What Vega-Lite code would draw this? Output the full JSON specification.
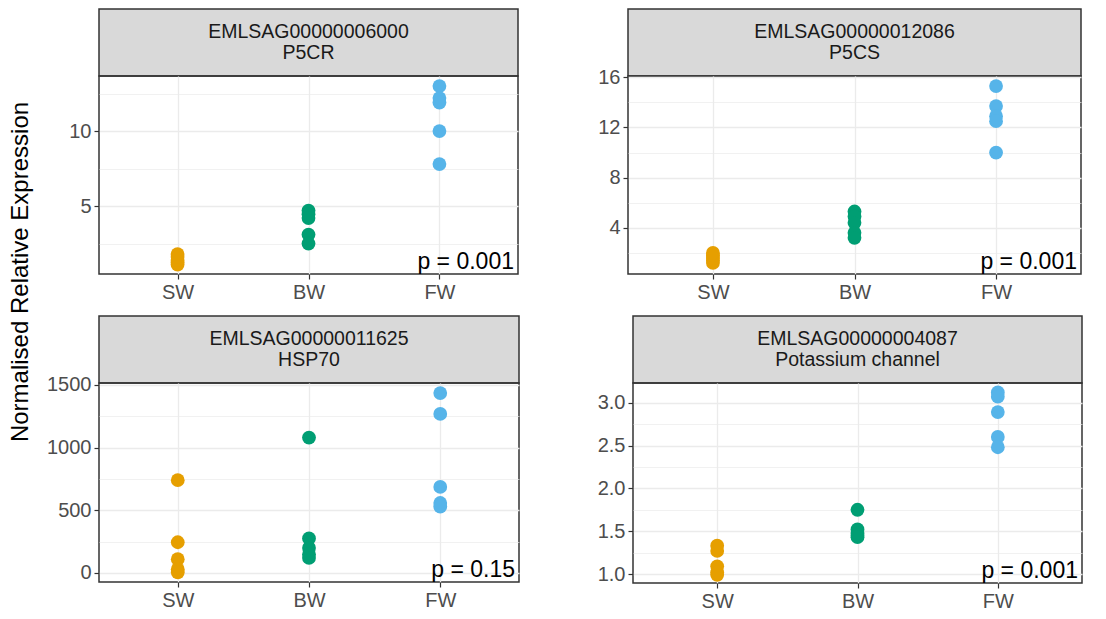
{
  "$schema": "https://vega.github.io/schema/vega-lite/v6.json",
  "padding": {"left": 8, "top": 8, "right": 5, "bottom": 5},
  "background": "white",
  "title": {"text": "Normalised Relative Expression", "orient": "left", "anchor": "middle", "fontSize": 24, "fontWeight": "normal", "color": "#000000", "font": "Liberation Sans", "offset": 13, "dx": 38},
  "datasets": {
    "expr": [
      {"gene": "P5CR", "salinity": "SW", "value": 1.1},
      {"gene": "P5CR", "salinity": "SW", "value": 1.25},
      {"gene": "P5CR", "salinity": "SW", "value": 1.4},
      {"gene": "P5CR", "salinity": "SW", "value": 1.6},
      {"gene": "P5CR", "salinity": "SW", "value": 1.8},
      {"gene": "P5CR", "salinity": "BW", "value": 4.7},
      {"gene": "P5CR", "salinity": "BW", "value": 4.45},
      {"gene": "P5CR", "salinity": "BW", "value": 4.2},
      {"gene": "P5CR", "salinity": "BW", "value": 3.1},
      {"gene": "P5CR", "salinity": "BW", "value": 2.5},
      {"gene": "P5CR", "salinity": "FW", "value": 13.0},
      {"gene": "P5CR", "salinity": "FW", "value": 12.2},
      {"gene": "P5CR", "salinity": "FW", "value": 11.9},
      {"gene": "P5CR", "salinity": "FW", "value": 10.0},
      {"gene": "P5CR", "salinity": "FW", "value": 7.8},
      {"gene": "P5CS", "salinity": "SW", "value": 1.2},
      {"gene": "P5CS", "salinity": "SW", "value": 1.4},
      {"gene": "P5CS", "salinity": "SW", "value": 1.6},
      {"gene": "P5CS", "salinity": "SW", "value": 1.8},
      {"gene": "P5CS", "salinity": "SW", "value": 2.0},
      {"gene": "P5CS", "salinity": "BW", "value": 5.3},
      {"gene": "P5CS", "salinity": "BW", "value": 4.9},
      {"gene": "P5CS", "salinity": "BW", "value": 4.4},
      {"gene": "P5CS", "salinity": "BW", "value": 3.6},
      {"gene": "P5CS", "salinity": "BW", "value": 3.2},
      {"gene": "P5CS", "salinity": "FW", "value": 15.3},
      {"gene": "P5CS", "salinity": "FW", "value": 13.7},
      {"gene": "P5CS", "salinity": "FW", "value": 12.9},
      {"gene": "P5CS", "salinity": "FW", "value": 12.5},
      {"gene": "P5CS", "salinity": "FW", "value": 10.0},
      {"gene": "HSP70", "salinity": "SW", "value": 740},
      {"gene": "HSP70", "salinity": "SW", "value": 245},
      {"gene": "HSP70", "salinity": "SW", "value": 110},
      {"gene": "HSP70", "salinity": "SW", "value": 30},
      {"gene": "HSP70", "salinity": "SW", "value": 5},
      {"gene": "HSP70", "salinity": "BW", "value": 1080},
      {"gene": "HSP70", "salinity": "BW", "value": 275},
      {"gene": "HSP70", "salinity": "BW", "value": 200},
      {"gene": "HSP70", "salinity": "BW", "value": 150},
      {"gene": "HSP70", "salinity": "BW", "value": 120},
      {"gene": "HSP70", "salinity": "FW", "value": 1435},
      {"gene": "HSP70", "salinity": "FW", "value": 1268},
      {"gene": "HSP70", "salinity": "FW", "value": 686},
      {"gene": "HSP70", "salinity": "FW", "value": 558},
      {"gene": "HSP70", "salinity": "FW", "value": 530},
      {"gene": "KCH", "salinity": "SW", "value": 1.33},
      {"gene": "KCH", "salinity": "SW", "value": 1.27},
      {"gene": "KCH", "salinity": "SW", "value": 1.09},
      {"gene": "KCH", "salinity": "SW", "value": 1.02},
      {"gene": "KCH", "salinity": "SW", "value": 0.99},
      {"gene": "KCH", "salinity": "BW", "value": 1.75},
      {"gene": "KCH", "salinity": "BW", "value": 1.52},
      {"gene": "KCH", "salinity": "BW", "value": 1.48},
      {"gene": "KCH", "salinity": "BW", "value": 1.45},
      {"gene": "KCH", "salinity": "BW", "value": 1.43},
      {"gene": "KCH", "salinity": "FW", "value": 3.12},
      {"gene": "KCH", "salinity": "FW", "value": 3.07},
      {"gene": "KCH", "salinity": "FW", "value": 2.89},
      {"gene": "KCH", "salinity": "FW", "value": 2.6},
      {"gene": "KCH", "salinity": "FW", "value": 2.48}
    ],
    "panels": [
      {"gene": "P5CR", "header": "EMLSAG00000006000\nP5CR", "p": "p = 0.001"},
      {"gene": "P5CS", "header": "EMLSAG00000012086\nP5CS", "p": "p = 0.001"},
      {"gene": "HSP70", "header": "EMLSAG00000011625\nHSP70", "p": "p = 0.15"},
      {"gene": "KCH", "header": "EMLSAG00000004087\nPotassium channel", "p": "p = 0.001"}
    ]
  },
  "config": {
    "font": "Liberation Sans",
    "view": {"stroke": "#333333", "strokeWidth": 1.5},
    "axis": {"labelFont": "Liberation Sans", "labelFontSize": 20, "labelColor": "#4D4D4D", "tickColor": "#333333", "tickSize": 5, "tickWidth": 1.2, "labelPadding": 3, "domain": false, "gridColor": "#EBEBEB", "gridWidth": 1.3, "title": null, "labelFlush": false, "labelOverlap": false}
  },
  "spacing": 12,
  "vconcat": [
    {
      "spacing": 78,
      "hconcat": [
        {
          "spacing": 0, "bounds": "flush",
          "vconcat": [
            {"data": {"name": "panels"}, "transform": [{"filter": {"field": "gene", "equal": "P5CR"}}], "width": 419, "height": 67, "view": {"fill": "#D9D9D9", "stroke": "#333333", "strokeWidth": 1.5},
             "mark": {"type": "text", "lineBreak": "\n", "fontSize": 19.5, "lineHeight": 21, "baseline": "middle", "dy": -10.5, "color": "#1A1A1A"},
             "encoding": {"text": {"field": "header", "type": "nominal"}}},
            {"width": 419, "height": 198, "resolve": {"axis": {"y": "independent"}},
             "layer": [
              {"data": {"name": "expr"}, "transform": [{"filter": {"field": "gene", "equal": "P5CR"}}],
               "mark": {"type": "circle", "opacity": 0},
               "encoding": {"y": {"field": "value", "type": "quantitative", "scale": {"domain": [0.47, 13.67], "nice": false, "zero": false}, "axis": {"orient": "left", "values": [2.5, 7.5, 12.5], "grid": true, "gridWidth": 0.7, "labels": false, "ticks": false}}}},
              {"data": {"name": "expr"}, "transform": [{"filter": {"field": "gene", "equal": "P5CR"}}],
               "mark": {"type": "circle", "size": 190, "opacity": 1},
               "encoding": {
                 "x": {"field": "salinity", "type": "nominal", "sort": ["SW", "BW", "FW"], "scale": {"type": "point", "domain": ["SW", "BW", "FW"], "padding": 0.6}, "axis": {"grid": true, "labelAngle": 0}},
                 "y": {"field": "value", "type": "quantitative", "scale": {"domain": [0.47, 13.67], "nice": false, "zero": false}, "axis": {"orient": "left", "values": [5, 10], "grid": true}},
                 "color": {"field": "salinity", "type": "nominal", "scale": {"domain": ["SW", "BW", "FW"], "range": ["#E69F00", "#009E73", "#56B4E9"]}, "legend": null}}},
              {"data": {"name": "panels"}, "transform": [{"filter": {"field": "gene", "equal": "P5CR"}}],
               "mark": {"type": "text", "align": "right", "baseline": "bottom", "fontSize": 23, "dx": -4, "color": "#000000"},
               "encoding": {"x": {"value": "width"}, "y": {"value": "height"}, "text": {"field": "p", "type": "nominal"}}}
             ]}
          ]
        },
        {
          "spacing": 0, "bounds": "flush",
          "vconcat": [
            {"data": {"name": "panels"}, "transform": [{"filter": {"field": "gene", "equal": "P5CS"}}], "width": 453, "height": 67, "view": {"fill": "#D9D9D9", "stroke": "#333333", "strokeWidth": 1.5},
             "mark": {"type": "text", "lineBreak": "\n", "fontSize": 19.5, "lineHeight": 21, "baseline": "middle", "dy": -10.5, "color": "#1A1A1A"},
             "encoding": {"text": {"field": "header", "type": "nominal"}}},
            {"width": 453, "height": 198, "resolve": {"axis": {"y": "independent"}},
             "layer": [
              {"data": {"name": "expr"}, "transform": [{"filter": {"field": "gene", "equal": "P5CS"}}],
               "mark": {"type": "circle", "opacity": 0},
               "encoding": {"y": {"field": "value", "type": "quantitative", "scale": {"domain": [0.32, 16.1], "nice": false, "zero": false}, "axis": {"orient": "left", "values": [2, 6, 10, 14], "grid": true, "gridWidth": 0.7, "labels": false, "ticks": false}}}},
              {"data": {"name": "expr"}, "transform": [{"filter": {"field": "gene", "equal": "P5CS"}}],
               "mark": {"type": "circle", "size": 190, "opacity": 1},
               "encoding": {
                 "x": {"field": "salinity", "type": "nominal", "sort": ["SW", "BW", "FW"], "scale": {"type": "point", "domain": ["SW", "BW", "FW"], "padding": 0.6}, "axis": {"grid": true, "labelAngle": 0}},
                 "y": {"field": "value", "type": "quantitative", "scale": {"domain": [0.32, 16.1], "nice": false, "zero": false}, "axis": {"orient": "left", "values": [4, 8, 12, 16], "grid": true}},
                 "color": {"field": "salinity", "type": "nominal", "scale": {"domain": ["SW", "BW", "FW"], "range": ["#E69F00", "#009E73", "#56B4E9"]}, "legend": null}}},
              {"data": {"name": "panels"}, "transform": [{"filter": {"field": "gene", "equal": "P5CS"}}],
               "mark": {"type": "text", "align": "right", "baseline": "bottom", "fontSize": 23, "dx": -4, "color": "#000000"},
               "encoding": {"x": {"value": "width"}, "y": {"value": "height"}, "text": {"field": "p", "type": "nominal"}}}
             ]}
          ]
        }
      ]
    },
    {
      "spacing": 76,
      "hconcat": [
        {
          "spacing": 0, "bounds": "flush",
          "vconcat": [
            {"data": {"name": "panels"}, "transform": [{"filter": {"field": "gene", "equal": "HSP70"}}], "width": 420, "height": 67, "view": {"fill": "#D9D9D9", "stroke": "#333333", "strokeWidth": 1.5},
             "mark": {"type": "text", "lineBreak": "\n", "fontSize": 19.5, "lineHeight": 21, "baseline": "middle", "dy": -10.5, "color": "#1A1A1A"},
             "encoding": {"text": {"field": "header", "type": "nominal"}}},
            {"width": 420, "height": 199, "resolve": {"axis": {"y": "independent"}},
             "layer": [
              {"data": {"name": "expr"}, "transform": [{"filter": {"field": "gene", "equal": "HSP70"}}],
               "mark": {"type": "circle", "opacity": 0},
               "encoding": {"y": {"field": "value", "type": "quantitative", "scale": {"domain": [-72, 1515], "nice": false, "zero": false}, "axis": {"orient": "left", "values": [250, 750, 1250], "grid": true, "gridWidth": 0.7, "labels": false, "ticks": false}}}},
              {"data": {"name": "expr"}, "transform": [{"filter": {"field": "gene", "equal": "HSP70"}}],
               "mark": {"type": "circle", "size": 190, "opacity": 1},
               "encoding": {
                 "x": {"field": "salinity", "type": "nominal", "sort": ["SW", "BW", "FW"], "scale": {"type": "point", "domain": ["SW", "BW", "FW"], "padding": 0.6}, "axis": {"grid": true, "labelAngle": 0}},
                 "y": {"field": "value", "type": "quantitative", "scale": {"domain": [-72, 1515], "nice": false, "zero": false}, "axis": {"orient": "left", "values": [0, 500, 1000, 1500], "grid": true, "format": "d"}},
                 "color": {"field": "salinity", "type": "nominal", "scale": {"domain": ["SW", "BW", "FW"], "range": ["#E69F00", "#009E73", "#56B4E9"]}, "legend": null}}},
              {"data": {"name": "panels"}, "transform": [{"filter": {"field": "gene", "equal": "HSP70"}}],
               "mark": {"type": "text", "align": "right", "baseline": "bottom", "fontSize": 23, "dx": -4, "color": "#000000"},
               "encoding": {"x": {"value": "width"}, "y": {"value": "height"}, "text": {"field": "p", "type": "nominal"}}}
             ]}
          ]
        },
        {
          "spacing": 0, "bounds": "flush",
          "vconcat": [
            {"data": {"name": "panels"}, "transform": [{"filter": {"field": "gene", "equal": "KCH"}}], "width": 449, "height": 67, "view": {"fill": "#D9D9D9", "stroke": "#333333", "strokeWidth": 1.5},
             "mark": {"type": "text", "lineBreak": "\n", "fontSize": 19.5, "lineHeight": 21, "baseline": "middle", "dy": -10.5, "color": "#1A1A1A"},
             "encoding": {"text": {"field": "header", "type": "nominal"}}},
            {"width": 449, "height": 200, "resolve": {"axis": {"y": "independent"}},
             "layer": [
              {"data": {"name": "expr"}, "transform": [{"filter": {"field": "gene", "equal": "KCH"}}],
               "mark": {"type": "circle", "opacity": 0},
               "encoding": {"y": {"field": "value", "type": "quantitative", "scale": {"domain": [0.895, 3.23], "nice": false, "zero": false}, "axis": {"orient": "left", "values": [1.25, 1.75, 2.25, 2.75], "grid": true, "gridWidth": 0.7, "labels": false, "ticks": false}}}},
              {"data": {"name": "expr"}, "transform": [{"filter": {"field": "gene", "equal": "KCH"}}],
               "mark": {"type": "circle", "size": 190, "opacity": 1},
               "encoding": {
                 "x": {"field": "salinity", "type": "nominal", "sort": ["SW", "BW", "FW"], "scale": {"type": "point", "domain": ["SW", "BW", "FW"], "padding": 0.6}, "axis": {"grid": true, "labelAngle": 0}},
                 "y": {"field": "value", "type": "quantitative", "scale": {"domain": [0.895, 3.23], "nice": false, "zero": false}, "axis": {"orient": "left", "values": [1.0, 1.5, 2.0, 2.5, 3.0], "grid": true, "format": ".1f"}},
                 "color": {"field": "salinity", "type": "nominal", "scale": {"domain": ["SW", "BW", "FW"], "range": ["#E69F00", "#009E73", "#56B4E9"]}, "legend": null}}},
              {"data": {"name": "panels"}, "transform": [{"filter": {"field": "gene", "equal": "KCH"}}],
               "mark": {"type": "text", "align": "right", "baseline": "bottom", "fontSize": 23, "dx": -4, "color": "#000000"},
               "encoding": {"x": {"value": "width"}, "y": {"value": "height"}, "text": {"field": "p", "type": "nominal"}}}
             ]}
          ]
        }
      ]
    }
  ]
}
